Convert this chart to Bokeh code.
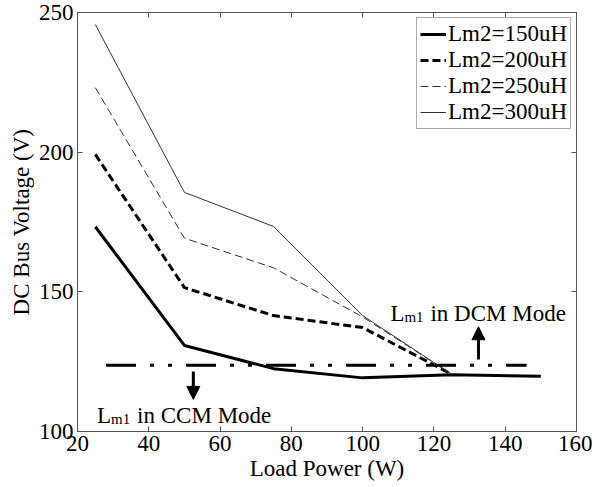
from bokeh.plotting import figure
from bokeh.models import LinearAxis, FixedTicker, Legend, LegendItem, Arrow, NormalHead
from bokeh.core.properties import value
from bokeh.embed import file_html
from bokeh.resources import INLINE

# ---- data ----
load_power = [25, 50, 75, 100, 125, 150]
v_150uH = [173.3, 130.8, 122.5, 119.2, 120.3, 119.8]
power_200 = [25, 50, 75, 100, 125]
v_200uH = [199.2, 151.5, 141.5, 137.2, 120.5]
power_250 = [25, 50, 75, 100, 125]
v_250uH = [223.1, 169.2, 158.6, 141.0, 120.5]
power_300 = [25, 50, 75, 100, 125]
v_300uH = [245.7, 185.6, 173.4, 141.5, 120.5]
boundary_x = [28, 146]
boundary_v = [123.7, 123.7]
x_ticks = [20, 40, 60, 80, 100, 120, 140, 160]
y_ticks = [100, 150, 200, 250]

FONT = "Liberation Serif"
FS = "23px"
AXC = "#555555"

p = figure(frame_width=499, frame_height=419, x_range=(20, 160), y_range=(100, 250),
           output_backend="svg", toolbar_location=None,
           min_border_left=77, min_border_right=16, min_border_top=12, min_border_bottom=40)
p.outline_line_color = AXC
p.xgrid.visible = False
p.ygrid.visible = False
p.background_fill_color = "white"
p.border_fill_color = "white"

def style_axis(ax, ticks, show_labels=True):
    ax.ticker = FixedTicker(ticks=ticks)
    ax.axis_line_color = AXC
    ax.major_tick_line_color = AXC
    ax.major_tick_in = 5
    ax.major_tick_out = 0
    ax.minor_tick_line_color = None
    ax.major_label_text_font = FONT
    ax.major_label_text_color = "black"
    ax.major_label_text_font_size = FS
    if show_labels:
        ax.major_label_standoff = 4
    else:
        ax.major_label_overrides = {t: "" for t in ticks}
        ax.major_label_standoff = 0

style_axis(p.xaxis[0], x_ticks)
style_axis(p.yaxis[0], y_ticks)
p.xaxis.axis_label = "Load Power (W)"
p.yaxis.axis_label = "DC Bus Voltage (V)"
for ax in (p.xaxis[0], p.yaxis[0]):
    ax.axis_label_text_font = FONT
    ax.axis_label_text_font_size = FS
    ax.axis_label_text_font_style = "normal"
    ax.axis_label_text_color = "black"
    ax.axis_label_standoff = 2

top = LinearAxis()
style_axis(top, x_ticks, show_labels=False)
p.add_layout(top, "above")
right = LinearAxis()
style_axis(right, y_ticks, show_labels=False)
p.add_layout(right, "right")

r1 = p.line(load_power, v_150uH, line_color="black", line_width=3)
r2 = p.line(power_200, v_200uH, line_color="black", line_width=3, line_dash="8 4")
r3 = p.line(power_250, v_250uH, line_color="#333333", line_width=1, line_dash="8 4")
r4 = p.line(power_300, v_300uH, line_color="#333333", line_width=1)

p.line(boundary_x, boundary_v, line_color="black", line_width=3, line_dash="30 14 4 14 4 14")

# arrows
p.add_layout(Arrow(end=NormalHead(size=13, fill_color="black", line_color="black"),
                   x_start=52.5, y_start=121.5, x_end=52.5, y_end=111.5,
                   line_color="black", line_width=3))
p.add_layout(Arrow(end=NormalHead(size=13, fill_color="black", line_color="black"),
                   x_start=132.5, y_start=125.8, x_end=132.5, y_end=137.5,
                   line_color="black", line_width=3))

# annotations with subscript
def mode_label(x, y, rest):
    p.text(x=[x], y=[y], text=["L"], text_font=value(FONT), text_font_size=FS,
           text_baseline="alphabetic", text_align="left", text_color="black")
    p.text(x=[x], y=[y], text=["m1"], text_font=value(FONT), text_font_size="15px",
           text_baseline="alphabetic", text_align="left", text_color="black",
           x_offset=14, y_offset=4)
    p.text(x=[x], y=[y], text=[rest], text_font=value(FONT), text_font_size=FS,
           text_baseline="alphabetic", text_align="left", text_color="black",
           x_offset=40)

mode_label(25.5, 105.9, "in CCM Mode")
mode_label(107.8, 142.3, "in DCM Mode")

legend = Legend(items=[
    LegendItem(label="Lm2=150uH", renderers=[r1]),
    LegendItem(label="Lm2=200uH", renderers=[r2]),
    LegendItem(label="Lm2=250uH", renderers=[r3]),
    LegendItem(label="Lm2=300uH", renderers=[r4]),
], location="top_right")
legend.label_text_font = FONT
legend.label_text_font_size = FS
legend.label_text_color = "black"
legend.border_line_color = AXC
legend.border_line_width = 1
legend.background_fill_color = "white"
legend.glyph_width = 26
legend.glyph_height = 26
legend.label_height = 26
legend.label_standoff = 2
legend.spacing = 0
legend.padding = 3
legend.margin = 5
p.add_layout(legend)

open("out.html", "w").write(file_html(p, INLINE))
